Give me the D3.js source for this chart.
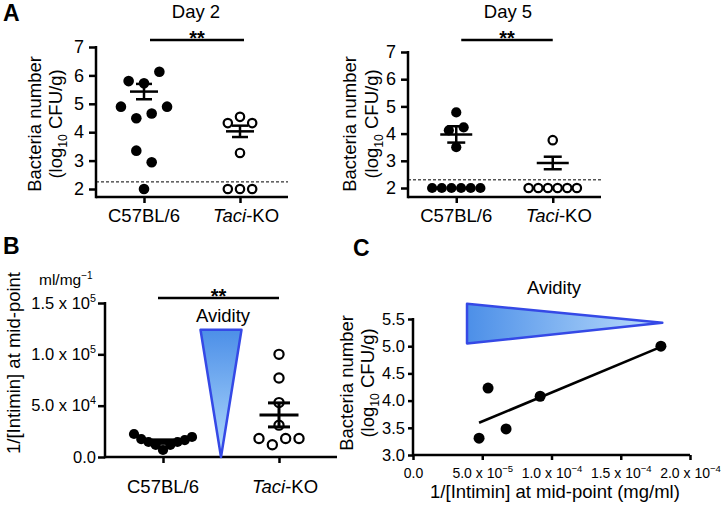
<!DOCTYPE html>
<html><head><meta charset="utf-8">
<script src="https://cdn.jsdelivr.net/npm/d3@7"></script>
<style>
body{margin:0;background:#fff}
svg{display:block}
text{font-family:"Liberation Sans",Arial,Helvetica,sans-serif;fill:#000}
</style>
</head><body>
<svg id="chart" width="728" height="527"></svg>
<script>
// ---------------- DATA ----------------
const groups = ["C57BL/6", "Taci-KO"];
const yTicksA = [2, 3, 4, 5, 6, 7];

// Panel A, day 2 (log10 CFU/g)
const day2WT = [5.80, 5.72, 6.13, 4.90, 4.49, 4.66, 4.90, 3.35, 2.94, 2.00];
const day2KO = [4.32, 4.54, 4.32, 3.27, 2.00, 2.00, 2.00];
const day2Mean = [5.43, 4.03];
const day2Sem = [0.27, 0.20];
const day2Limit = 2.25;

// Panel A, day 5
const day5WT = [4.78, 4.12, 4.23, 3.50, 2.00, 2.00, 2.00, 2.00, 2.00, 2.00];
const day5KO = [3.76, 2.00, 2.00, 2.00, 2.00, 2.00, 2.00];
const day5Mean = [3.97, 2.92];
const day5Sem = [0.30, 0.23];
const day5Limit = 2.3;

// Panel B, 1/[Intimin] at mid-point (ml/mg^-1)
const avidWT = [22400, 17500, 14600, 11700, 6800, 11700, 14600, 16500, 19500];
const avidKO = [100000, 77000, 53000, 31000, 18000, 12000, 18000, 18000];
const avidMean = [15000, 41000];
const avidSem = [1700, 11700];
const yTicksB = [0, 50000, 100000, 150000];
const yTickLabelsB = [["0.0", ""], ["5.0 x 10", "4"], ["1.0 x 10", "5"], ["1.5 x 10", "5"]];

// Panel C, correlation
const corrX = [4.77e-5, 5.42e-5, 6.72e-5, 9.18e-5, 1.79e-4];
const corrY = [3.31, 4.23, 3.48, 4.08, 5.00];
const xTicksC = [0, 5e-5, 1e-4, 1.5e-4, 2e-4];
const xTickLabelsC = [["0.0", ""], ["5.0 x 10", "\u22125"], ["1.0 x 10", "\u22124"], ["1.5 x 10", "\u22124"], ["2.0 x 10", "\u22124"]];
const yTicksC = [3.0, 3.5, 4.0, 4.5, 5.0, 5.5];

// ---------------- HELPERS ----------------
const svg = d3.select("#chart");
const AX = 2.5;

const defs = svg.append("defs");
const gv = defs.append("linearGradient").attr("id", "gradV").attr("x1", 0).attr("y1", 0).attr("x2", 0).attr("y2", 1);
gv.append("stop").attr("offset", "0%").attr("stop-color", "#4c8fe8");
gv.append("stop").attr("offset", "100%").attr("stop-color", "#b0d9fc");
const gh = defs.append("linearGradient").attr("id", "gradH").attr("x1", 0).attr("y1", 0).attr("x2", 1).attr("y2", 0);
gh.append("stop").attr("offset", "0%").attr("stop-color", "#4c8fe8");
gh.append("stop").attr("offset", "100%").attr("stop-color", "#bddefc");

function rowOffsets(values, y, r, maxW) {
  const idx = values.map((v, i) => i).sort((a, b) => values[b] - values[a]);
  const rows = []; let cur = null; let lastY = null;
  idx.forEach(i => {
    const py = y(values[i]);
    if (cur && Math.abs(py - lastY) < 12) cur.push(i); else { cur = [i]; rows.push(cur); }
    lastY = py;
  });
  const off = new Array(values.length).fill(0);
  rows.forEach(row => {
    row.sort((a, b) => a - b);
    const n = row.length; if (n < 2) return;
    const sp = Math.min(2.9 * r, maxW / (n - 1));
    row.forEach((i, k) => off[i] = (k - (n - 1) / 2) * sp);
  });
  return off;
}

function catLabel(g, x, y, name, size) {
  const t = g.append("text").attr("x", x).attr("y", y).attr("text-anchor", "middle").attr("font-size", size);
  if (name === "Taci-KO") {
    t.append("tspan").attr("font-style", "italic").text("Taci");
    t.append("tspan").text("-KO");
  } else t.text(name);
}

function yLabelLog(g, cx1, cx2, cy, size) {
  g.append("text").attr("transform", `translate(${cx1},${cy}) rotate(-90)`).attr("text-anchor", "middle")
    .attr("dy", "0.35em").attr("font-size", size).text("Bacteria number");
  const t = g.append("text").attr("transform", `translate(${cx2},${cy}) rotate(-90)`).attr("text-anchor", "middle")
    .attr("dy", "0.35em").attr("font-size", size);
  t.append("tspan").text("(log");
  t.append("tspan").attr("font-size", size * 0.66).attr("dy", 5).text("10");
  t.append("tspan").attr("dy", -5).text(" CFU/g)");
}

function sigBar(g, x1, x2, y) {
  g.append("line").attr("x1", x1).attr("x2", x2).attr("y1", y).attr("y2", y).attr("stroke", "#000").attr("stroke-width", AX);
  g.append("text").attr("x", (x1 + x2) / 2).attr("y", y + 5).attr("text-anchor", "middle")
    .attr("font-size", 20).attr("font-weight", "bold").text("**");
}

function dotPanel(o) {
  const g = svg.append("g");
  const x = d3.scalePoint().domain(groups).range([o.x0, o.x1]).padding(0.5);
  const y = d3.scaleLinear().domain(o.domain).range([o.yBottom, o.yTop]);
  // y axis
  const ya = g.append("g").attr("transform", `translate(${o.x0},0)`)
    .call(d3.axisLeft(y).tickValues(o.ticks).tickSize(7).tickPadding(o.tickPad).tickFormat(o.tickFormat || d3.format("d")));
  ya.select(".domain").remove();
  ya.selectAll("line").attr("stroke-width", AX);
  ya.selectAll("text").attr("font-size", o.tickSize).attr("font-family", null);
  if (o.tickLabels) {
    ya.selectAll("text").each(function (d, i) {
      const t = d3.select(this); t.text("");
      t.append("tspan").text(o.tickLabels[i][0]);
      if (o.tickLabels[i][1]) t.append("tspan").attr("font-size", o.tickSize * 0.65).attr("dy", -7).text(o.tickLabels[i][1]);
    });
  }
  g.append("line").attr("x1", o.x0).attr("x2", o.x0).attr("y1", o.yTop - 1).attr("y2", o.axisY + AX / 2)
    .attr("stroke", "#000").attr("stroke-width", AX);
  // x axis
  const xa = g.append("g").attr("transform", `translate(0,${o.axisY})`)
    .call(d3.axisBottom(x).tickSize(6).tickFormat(""));
  xa.select(".domain").remove();
  xa.selectAll("line").attr("stroke-width", AX);
  g.append("line").attr("x1", o.x0).attr("x2", o.x1).attr("y1", o.axisY).attr("y2", o.axisY)
    .attr("stroke", "#000").attr("stroke-width", AX);
  groups.forEach(c => catLabel(g, x(c) + (c === "Taci-KO" ? 6 : 0), o.catY, c, 18.5));
  // detection limit
  if (o.limit != null) {
    g.append("line").attr("x1", o.x0).attr("x2", o.x1).attr("y1", y(o.limit)).attr("y2", y(o.limit))
      .attr("stroke", "#000").attr("stroke-width", 1).attr("stroke-dasharray", "3,2");
  }
  // points
  const maxW = x.step() * 0.5;
  [o.wt, o.ko].forEach((vals, gi) => {
    const open = gi === 1;
    const r = open ? o.rOpen : o.rFill;
    const off = rowOffsets(vals, y, r, maxW);
    g.append("g").selectAll("circle").data(vals).join("circle")
      .attr("cx", (d, i) => x(groups[gi]) + off[i]).attr("cy", d => y(d))
      .attr("r", r)
      .attr("fill", open ? "#fff" : "#000")
      .attr("stroke", "#000").attr("stroke-width", open ? 2.2 : 0);
  });
  // mean +/- sem
  groups.forEach((c, gi) => {
    const cx = x(c), m = o.mean[gi], s = o.sem[gi];
    const eb = g.append("g").attr("stroke", "#000").attr("stroke-width", o.ebW);
    eb.append("line").attr("x1", cx).attr("x2", cx).attr("y1", y(m + s)).attr("y2", y(m - s));
    eb.append("line").attr("x1", cx - o.meanHW).attr("x2", cx + o.meanHW).attr("y1", y(m)).attr("y2", y(m));
    [m + s, m - s].forEach(v => eb.append("line").attr("x1", cx - o.capHW).attr("x2", cx + o.capHW).attr("y1", y(v)).attr("y2", y(v)));
  });
  sigBar(g, x(groups[0]) + o.sigOff[0], x(groups[1]) + o.sigOff[1], o.sigY);
  return { g, x, y };
}

// ---------------- PANEL A ----------------
svg.append("text").attr("x", 3).attr("y", 21).attr("font-size", 23).attr("font-weight", "bold").text("A");
svg.append("text").attr("x", 196).attr("y", 18).attr("text-anchor", "middle").attr("font-size", 18.5).text("Day 2");
svg.append("text").attr("x", 508).attr("y", 18).attr("text-anchor", "middle").attr("font-size", 18.5).text("Day 5");

const A1 = dotPanel({ x0: 96, x1: 288, yTop: 47, yBottom: 189, axisY: 197, domain: [2, 7], ticks: yTicksA,
  tickSize: 18, tickPad: 5, catY: 222, wt: day2WT, ko: day2KO, mean: day2Mean, sem: day2Sem, limit: day2Limit,
  rFill: 5.3, rOpen: 4.2, meanHW: 14, capHW: 8, ebW: 2.5, sigY: 40, sigOff: [6, 4] });
yLabelLog(A1.g, 35, 56, 124, 18.5);

const A2 = dotPanel({ x0: 408, x1: 601, yTop: 52, yBottom: 188, axisY: 197, domain: [2, 7], ticks: yTicksA,
  tickSize: 18, tickPad: 5, catY: 222, wt: day5WT, ko: day5KO, mean: day5Mean, sem: day5Sem, limit: day5Limit,
  rFill: 5.1, rOpen: 4.2, meanHW: 16, capHW: 9, ebW: 2.5, sigY: 40, sigOff: [5, 0] });
yLabelLog(A2.g, 350, 372, 124, 18.5);

// ---------------- PANEL B ----------------
svg.append("text").attr("x", 3).attr("y", 254).attr("font-size", 23).attr("font-weight", "bold").text("B");
const B = dotPanel({ x0: 105, x1: 337, yTop: 303, yBottom: 457, axisY: 457, domain: [0, 150000], ticks: yTicksB,
  tickSize: 16.5, tickPad: 2, tickLabels: yTickLabelsB, catY: 493, wt: avidWT, ko: avidKO, mean: avidMean, sem: avidSem,
  limit: null, rFill: 5.1, rOpen: 4.6, meanHW: 19.5, capHW: 11, ebW: 3, sigY: 298, sigOff: [-5, 0] });
B.g.append("text").attr("transform", "translate(14,363) rotate(-90)").attr("text-anchor", "middle").attr("dy", "0.35em")
  .attr("font-size", 18.5).text("1/[Intimin] at mid-point");
const unitB = B.g.append("text").attr("x", 39).attr("y", 285).attr("font-size", 15.5);
unitB.append("tspan").text("ml/mg");
unitB.append("tspan").attr("font-size", 10).attr("dy", -6).text("\u22121");
// avidity wedge (vertical)
{
  const cx = (B.x(groups[0]) + B.x(groups[1])) / 2, hw = 20.5;
  const top = B.y(124000), bot = B.y(0);
  B.g.append("path").attr("d", `M${cx - hw},${top}L${cx + hw},${top}L${cx},${bot}Z`)
    .attr("fill", "url(#gradV)").attr("stroke", "#3549e6").attr("stroke-width", 2.5).attr("stroke-linejoin", "round");
  B.g.append("text").attr("x", cx + 2).attr("y", 322).attr("text-anchor", "middle").attr("font-size", 18.5).text("Avidity");
}

// ---------------- PANEL C ----------------
svg.append("text").attr("x", 353).attr("y", 256).attr("font-size", 23).attr("font-weight", "bold").text("C");
{
  const g = svg.append("g");
  const x = d3.scaleLinear().domain([0, 2e-4]).range([413, 690]);
  const y = d3.scaleLinear().domain([3, 5.5]).range([455, 319]);
  // wedge
  const xl = x(3.9e-5), xr = x(1.8e-4), yt = y(5.78), yb = y(5.05), ym = y(5.43);
  g.append("path").attr("d", `M${xl},${yt}L${xr},${ym}L${xl},${yb}Z`)
    .attr("fill", "url(#gradH)").attr("stroke", "#3549e6").attr("stroke-width", 2.5).attr("stroke-linejoin", "round");
  g.append("text").attr("x", 554).attr("y", 294).attr("text-anchor", "middle").attr("font-size", 18.5).text("Avidity");

  const ya = g.append("g").attr("transform", "translate(413,0)")
    .call(d3.axisLeft(y).tickValues(yTicksC).tickSize(5).tickPadding(3).tickFormat(d3.format(".1f")));
  ya.select(".domain").remove();
  ya.selectAll("line").attr("stroke-width", AX);
  ya.selectAll("text").attr("font-size", 16.5).attr("font-family", null);
  const xa = g.append("g").attr("transform", "translate(0,455)")
    .call(d3.axisBottom(x).tickValues(xTicksC).tickSize(5).tickPadding(8));
  xa.select(".domain").remove();
  xa.selectAll("line").attr("stroke-width", AX);
  xa.selectAll("text").attr("font-size", 14).attr("font-family", null).each(function (d, i) {
    const t = d3.select(this); t.text("");
    t.append("tspan").text(xTickLabelsC[i][0]);
    if (xTickLabelsC[i][1]) t.append("tspan").attr("font-size", 9.5).attr("dy", -6).text(xTickLabelsC[i][1]);
  });
  g.append("line").attr("x1", 413).attr("x2", 413).attr("y1", 318).attr("y2", 455 + AX / 2).attr("stroke", "#000").attr("stroke-width", AX);
  g.append("line").attr("x1", 413).attr("x2", 690).attr("y1", 455).attr("y2", 455).attr("stroke", "#000").attr("stroke-width", AX);

  // regression line from the data
  const mx = d3.mean(corrX), my = d3.mean(corrY);
  const sxy = d3.sum(corrX, (v, i) => (v - mx) * (corrY[i] - my));
  const sxx = d3.sum(corrX, v => (v - mx) * (v - mx));
  const slope = sxy / sxx, icpt = my - slope * mx;
  const xmin = d3.min(corrX), xmax = d3.max(corrX);
  g.append("line").attr("x1", x(xmin)).attr("y1", y(icpt + slope * xmin)).attr("x2", x(xmax)).attr("y2", y(icpt + slope * xmax))
    .attr("stroke", "#000").attr("stroke-width", 2.6);
  g.append("g").selectAll("circle").data(corrX).join("circle")
    .attr("cx", d => x(d)).attr("cy", (d, i) => y(corrY[i])).attr("r", 5.5).attr("fill", "#000");

  g.append("text").attr("x", 555).attr("y", 498).attr("text-anchor", "middle").attr("font-size", 18.5)
    .text("1/[Intimin] at mid-point (mg/ml)");
  yLabelLog(g, 347, 368, 383, 18.5);
}
</script>
</body></html>
